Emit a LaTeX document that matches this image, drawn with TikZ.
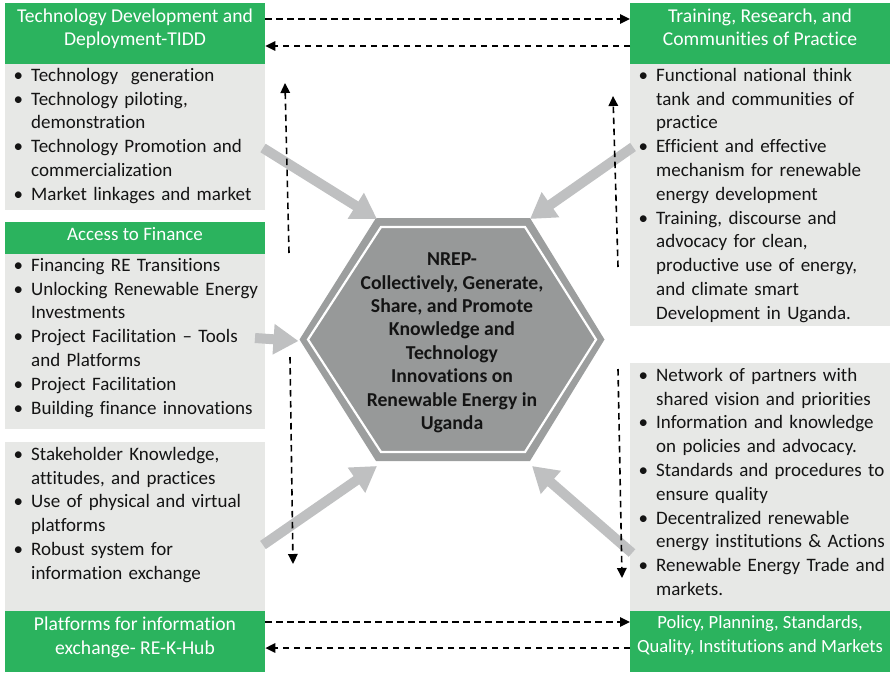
\documentclass[tikz,border=0pt]{standalone}
\usepackage{fontspec}
\setmainfont{Carlito}[Ligatures={NoCommon,NoDiscretionary}]
\usetikzlibrary{arrows.meta}

\definecolor{hdrgreen}{RGB}{43,179,94}
\definecolor{panelgray}{RGB}{231,232,230}
\definecolor{flowgray}{RGB}{191,192,193}
\definecolor{hexfill}{RGB}{151,153,153}
\definecolor{hexrim}{RGB}{156,158,158}
\definecolor{textdark}{RGB}{20,20,20}

% sizes and line pitch
\newcommand\bodyfont{\fontsize{19pt}{23.8pt}\selectfont}
\newcommand\headfont{\fontsize{19.6pt}{23.6pt}\selectfont}
\newcommand\smallheadfont{\fontsize{18.6pt}{23.6pt}\selectfont}
\newcommand\hubfont{\fontsize{19.7pt}{23.4pt}\selectfont\bfseries}
% strut: 16pt above the baseline, 7.8pt below
\newcommand\lst{\rule[-7.8pt]{0pt}{23.8pt}}
% one bullet item with a hanging indent, closed by its own \par
\newcommand\itm[1]{\noindent\hangindent=26pt\hangafter=1\makebox[26pt][l]{\hspace{8.5pt}\lst\textbullet}#1\par}

\begin{document}
\begin{tikzpicture}[x=1pt,y=-1pt,
  greenbox/.style={fill=hdrgreen, draw=none, minimum width=260pt, inner sep=0pt, anchor=north west},
  panel/.style={fill=panelgray, draw=none, minimum width=260pt, inner sep=0pt, anchor=north west},
  headtext/.style={anchor=north, inner sep=0pt, align=center, text=white, font=\headfont},
  listtext/.style={anchor=north west, inner sep=0pt, text width=300pt, align=left, font=\bodyfont, text=textdark},
  hubtext/.style={inner sep=0pt, align=center, text=textdark, font=\hubfont},
  flow/.style={draw=flowgray, line width=10pt, -{Triangle[length=25pt,width=29pt]}},
  link/.style={draw=black, line width=1.6pt, dash pattern=on 6.5pt off 4.5pt, -{Triangle[length=10pt,width=9.5pt]}},
]
\useasboundingbox (0,0) rectangle (890,672);

% ---- left column ----
\node[greenbox, minimum height=61pt] (tidd) at (5,3) {};
\node[panel, minimum height=146pt] (tiddpanel) at (5,64) {};
\node[greenbox, minimum height=32pt] (fin) at (5,222) {};
\node[panel, minimum height=175pt] (finpanel) at (5,254) {};
\node[panel, minimum height=169pt] (knowpanel) at (5,442) {};
\node[greenbox, minimum height=61pt] (rekhub) at (5,611) {};

% ---- right column ----
\node[greenbox, minimum height=61pt] (trcp) at (630,3) {};
\node[panel, minimum height=262pt] (trcppanel) at (630,64) {};
\node[panel, minimum height=248pt] (polpanel) at (630,363) {};
\node[greenbox, minimum height=61pt] (pol) at (630,611) {};

% ---- headings ----
\node[headtext] (tiddtxt) at (135,6) {\lst Technology Development and\\Deployment-TIDD};
\node[headtext, font=\bodyfont] (fintxt) at (135,224.5) {\lst Access to Finance};
\node[headtext] (rekhubtxt) at (135,614.5) {\lst Platforms for information\\exchange- RE-K-Hub};
\node[headtext] (trcptxt) at (760,6) {\lst Training, Research, and\\Communities of Practice};
\node[headtext, font=\smallheadfont] (poltxt) at (760,612.5) {\lst Policy, Planning, Standards,\\Quality, Institutions and Markets};

% ---- bullet lists ----
\node[listtext] (tiddlist) at (5,65) {%
  \itm{Technology\ \ generation}%
  \itm{Technology piloting,\newline demonstration}%
  \itm{Technology Promotion and\newline commercialization}%
  \itm{Market linkages and market}};
\node[listtext] (finlist) at (5,255) {%
  \itm{Financing RE Transitions}%
  \itm{Unlocking Renewable Energy\newline Investments}%
  \itm{Project Facilitation -- Tools\newline and Platforms}%
  \itm{Project Facilitation}%
  \itm{Building finance innovations}};
\node[listtext] (knowlist) at (5,444) {%
  \itm{Stakeholder Knowledge,\newline attitudes, and practices}%
  \itm{Use of physical and virtual\newline platforms}%
  \itm{Robust system for\newline information exchange}};
\node[listtext] (trcplist) at (630,65) {%
  \itm{Functional national think\newline tank and communities of\newline practice}%
  \itm{Efficient and effective\newline mechanism for renewable\newline energy development}%
  \itm{Training, discourse and\newline advocacy for clean,\newline productive use of energy,\newline and climate smart\newline Development in Uganda.}};
\node[listtext] (pollist) at (630,365) {%
  \itm{Network of partners with\newline shared vision and priorities}%
  \itm{Information and knowledge\newline on policies and advocacy.}%
  \itm{Standards and procedures to\newline ensure quality}%
  \itm{Decentralized renewable\newline energy institutions \& Actions}%
  \itm{Renewable Energy Trade and\newline markets.}};

% ---- central hexagon ----
\coordinate (hw) at (299.5,339.5);
\coordinate (hnw) at (376,218);
\coordinate (hne) at (530,218);
\coordinate (he) at (604.5,339.5);
\coordinate (hse) at (530,461);
\coordinate (hsw) at (376,461);
\fill[hexrim] (hw) -- (hnw) -- (hne) -- (he) -- (hse) -- (hsw) -- cycle;
\filldraw[fill=hexfill, draw=white, line width=2.2pt]
  (308,339.5) -- (381,227) -- (525,227) -- (596,339.5) -- (525,452) -- (381,452) -- cycle;
\node[hubtext] (hub) at (452,343.5) {\lst NREP-\\Collectively, Generate,\\Share, and Promote\\Knowledge and\\Technology\\Innovations on\\Renewable Energy in\\Uganda\lst};

% ---- flows into the hub ----
\coordinate (f1) at (263,148);
\coordinate (f2) at (633,147);
\coordinate (f3) at (255,338);
\coordinate (f4) at (263,545);
\coordinate (f5) at (632,553);
\draw[flow] (f1) -- ([shift={(1,1)}]hnw);
\draw[flow] (f2) -- ([shift={(0,1)}]hne);
\draw[flow] (f3) -- ([shift={(-1,1.5)}]hw);
\draw[flow] (f4) -- ([shift={(1,5)}]hsw);
\draw[flow] (f5) -- ([shift={(2,5)}]hse);

% ---- exchanges between the pillars ----
\draw[link] (tidd.east |- 0,19) -- (trcp.west |- 0,19);
\draw[link] (trcp.west |- 0,46) -- (tidd.east |- 0,46);
\draw[link] (rekhub.east |- 0,622) -- (pol.west |- 0,622);
\draw[link] (pol.west |- 0,648) -- (rekhub.east |- 0,648);

\coordinate (ul0) at (289,253);
\coordinate (ul1) at (285,83);
\coordinate (ll0) at (290,357);
\coordinate (ll1) at (293,564);
\coordinate (ur0) at (618,267);
\coordinate (ur1) at (613,96);
\coordinate (lr0) at (618,369);
\coordinate (lr1) at (622,578);
\draw[link] (ul0) -- (ul1);
\draw[link] (ll0) -- (ll1);
\draw[link] (ur0) -- (ur1);
\draw[link] (lr0) -- (lr1);
\end{tikzpicture}
\end{document}
